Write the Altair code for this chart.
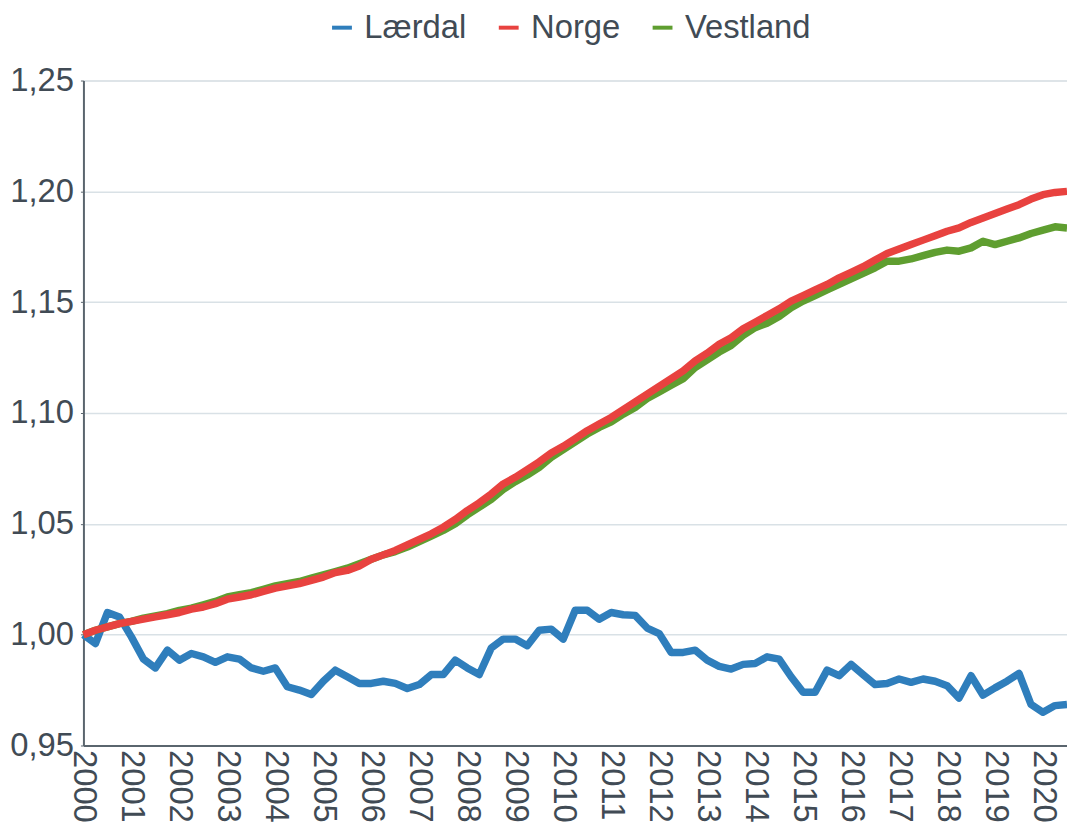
import altair as alt
import pandas as pd

# Quarterly index, 2000Q1 = 1.00
start_year = 2000
laerdal = [1.000, 0.996, 1.010, 1.008, 0.999, 0.989, 0.985, 0.993, 0.9885, 0.9915,
           0.990, 0.9875, 0.990, 0.989, 0.985, 0.9835, 0.985, 0.9765, 0.975, 0.973,
           0.979, 0.984, 0.981, 0.978, 0.978, 0.979, 0.978, 0.9757, 0.9775, 0.982,
           0.982, 0.9885, 0.985, 0.982, 0.994, 0.998, 0.998, 0.995, 1.002, 1.0025,
           0.998, 1.011, 1.011, 1.007, 1.010, 1.009, 1.0087, 1.003, 1.0005, 0.992,
           0.992, 0.993, 0.9885, 0.9857, 0.9845, 0.9866, 0.987, 0.990, 0.989, 0.981,
           0.974, 0.974, 0.984, 0.9815, 0.9866, 0.982, 0.9775, 0.978, 0.980, 0.9785,
           0.980, 0.979, 0.977, 0.9714, 0.9815, 0.9727, 0.976, 0.979, 0.9825, 0.9685,
           0.965, 0.968, 0.9685]
norge = [1.000, 1.002, 1.0035, 1.005, 1.006, 1.007, 1.008, 1.009, 1.010, 1.0115,
         1.0125, 1.014, 1.016, 1.017, 1.018, 1.0195, 1.021, 1.022, 1.023, 1.0245,
         1.026, 1.028, 1.029, 1.031, 1.034, 1.036, 1.038, 1.0405, 1.043, 1.0455,
         1.0485, 1.052, 1.056, 1.0595, 1.0635, 1.068, 1.071, 1.0745, 1.078, 1.082,
         1.085, 1.0885, 1.092, 1.095, 1.098, 1.1015, 1.105, 1.1085, 1.112, 1.1155,
         1.119, 1.1235, 1.127, 1.131, 1.134, 1.138, 1.141, 1.144, 1.147, 1.1505,
         1.153, 1.1555, 1.158, 1.161, 1.1635, 1.166, 1.169, 1.172, 1.174, 1.176,
         1.178, 1.180, 1.182, 1.1835, 1.186, 1.188, 1.190, 1.192, 1.194, 1.1965,
         1.1985, 1.1995, 1.200]
vestland = [1.000, 1.002, 1.0035, 1.005, 1.006, 1.0075, 1.0085, 1.0095, 1.011, 1.012,
            1.0135, 1.015, 1.017, 1.018, 1.019, 1.0205, 1.022, 1.023, 1.024, 1.0255,
            1.027, 1.0285, 1.030, 1.032, 1.034, 1.036, 1.0375, 1.0395, 1.042, 1.0445,
            1.047, 1.050, 1.054, 1.0575, 1.061, 1.0655, 1.069, 1.072, 1.0755, 1.080,
            1.0835, 1.087, 1.0905, 1.0935, 1.096, 1.0995, 1.1025, 1.1065, 1.1095, 1.1125,
            1.1155, 1.1205, 1.124, 1.1275, 1.1305, 1.135, 1.1385, 1.1405, 1.1435, 1.1475,
            1.1505, 1.153, 1.1555, 1.158, 1.1605, 1.163, 1.1655, 1.1685, 1.1685, 1.1695,
            1.171, 1.1725, 1.1735, 1.173, 1.1745, 1.1775, 1.176, 1.1775, 1.179, 1.181,
            1.1825, 1.184, 1.1835]

series_names = ["Lærdal", "Norge", "Vestland"]
series_colors = ["#2f7ebc", "#e8423f", "#5f9e30"]
year_ticks = list(range(2000, 2021))
y_ticks = [0.95, 1.00, 1.05, 1.10, 1.15, 1.20, 1.25]

rows = []
for name, vals in zip(series_names, [laerdal, norge, vestland]):
    for i, v in enumerate(vals):
        rows.append({"serie": name, "t": start_year + i * 0.25, "v": v})
df = pd.DataFrame(rows)

FONT = "Liberation Sans"
TXT = "#414b55"

x = alt.X("t:Q",
          scale=alt.Scale(domain=[2000, 2020.5], nice=False, zero=False),
          axis=alt.Axis(values=year_ticks, format="d", labelAngle=90, grid=False,
                        title=None, labelFontSize=33, labelColor=TXT, labelFont=FONT,
                        labelPadding=4, domainColor="#5a656e", domainWidth=2,
                        tickSize=0, labelOverlap=False, labelFlush=False))
y = alt.Y("v:Q",
          scale=alt.Scale(domain=[0.95, 1.25], nice=False, zero=False),
          axis=alt.Axis(values=y_ticks,
                        labelExpr="replace(format(datum.value, '.2f'), '.', ',')",
                        title=None, labelFontSize=33, labelColor=TXT, labelFont=FONT,
                        labelPadding=7, gridColor="#d9e1e6", gridWidth=1.5,
                        domainColor="#5a656e", domainWidth=2, tickSize=3,
                        tickColor="#5a656e"))
color = alt.Color("serie:N",
                  scale=alt.Scale(domain=series_names, range=series_colors),
                  legend=alt.Legend(orient="none", legendX=244, legendY=-70,
                                    direction="horizontal", title=None,
                                    symbolType="stroke", symbolStrokeWidth=4,
                                    symbolSize=400, labelFontSize=33,
                                    labelColor=TXT, labelFont=FONT,
                                    columnPadding=24, labelOffset=6))

base = alt.Chart(df).encode(x=x, y=y, color=color)
layers = [base.transform_filter(alt.datum.serie == s).mark_line(strokeWidth=7.5, strokeJoin="round")
          for s in ["Lærdal", "Vestland", "Norge"]]

chart = alt.layer(*layers).properties(
    width=991, height=670,
    autosize=alt.AutoSizeParams(type="none"),
    padding={"left": 76, "top": 70, "right": 0, "bottom": 74},
).configure_view(stroke=None).configure(background="white")

chart.save("out.html", embed_options={"renderer": "svg", "actions": False})
